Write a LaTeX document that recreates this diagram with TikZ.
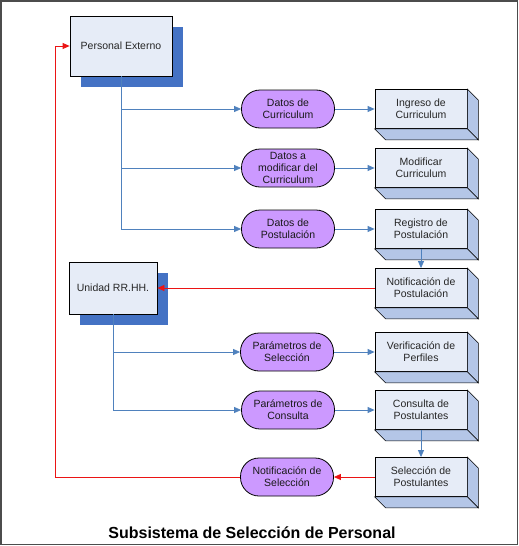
\documentclass[tikz,border=0pt]{standalone}
\usepackage{fontspec}
\setmainfont{Liberation Sans}
\usetikzlibrary{arrows.meta,shadows}
\definecolor{sombra}{RGB}{68,114,196}
\definecolor{fondo}{RGB}{230,236,247}
\definecolor{lado}{RGB}{180,198,231}
\definecolor{lila}{RGB}{204,153,255}
\definecolor{azullinea}{RGB}{79,129,189}
\definecolor{rojolinea}{RGB}{235,20,20}
\tikzset{
  actor/.style={draw=black, line width=0.8pt, fill=fondo, text=black!85, align=center,
    general shadow={fill=sombra, shadow xshift=11pt, shadow yshift=-11pt}},
  proceso/.style={draw=black, line width=0.8pt, fill=fondo, text=black!85, align=center,
    minimum width=92pt, minimum height=39pt, inner sep=0pt},
  carabox/.style={draw=black, line width=0.6pt, fill=lado},
  dato/.style={draw=black, line width=0.8pt, fill=lila, text=black!90, align=center,
    rounded corners=18.5pt, minimum width=93pt, minimum height=38pt, inner sep=0pt},
  flujo/.style={draw=azullinea, line width=0.8pt, -{Triangle[length=7pt,width=6pt]}},
  aviso/.style={draw=rojolinea, line width=0.8pt, -{Triangle[length=7pt,width=6pt]}}
}
\newcommand{\proceso}[3]{\node[proceso] (#1) at #2 {#3};
        \draw[carabox] (#1.north east) -- ([shift={(11pt,-11pt)}]#1.north east) -- ([shift={(11pt,-11pt)}]#1.south east) -- (#1.south east) -- cycle;
        \draw[carabox] (#1.south west) -- ([shift={(11pt,-11pt)}]#1.south west) -- ([shift={(11pt,-11pt)}]#1.south east) -- (#1.south east) -- cycle;}

\begin{document}
\begin{tikzpicture}[x=1pt, y=-1pt, font=\fontsize{10.5}{12.3}\selectfont]

					\useasboundingbox (0,0) rectangle (519,546);
					\draw[line width=1.5pt, black!70] (1,1) rectangle (517.5,544.5);

					\node[actor, minimum width=102pt, minimum height=60pt] (pe) at (121,46) {Personal Externo};
					\node[actor, minimum width=88pt, minimum height=52pt] (ur) at (113,288) {Unidad RR.HH.};

					\node[dato] (dc) at (288,109) {Datos de\\Curriculum};
					\node[dato] (dm) at (288,168) {Datos a\\modificar del\\Curriculum};
					\node[dato] (dp) at (288,229) {Datos de\\Postulación};
					\node[dato] (ps) at (287,352) {Parámetros de\\Selección};
					\node[dato] (pc) at (288,410) {Parámetros de\\Consulta};
					\node[dato] (ns) at (287,477) {Notificación de\\Selección};

					\proceso{ic}{(421,109)}{Ingreso de\\Curriculum}
					\proceso{mc}{(421,168)}{Modificar\\Curriculum}
					\proceso{rp}{(421,229)}{Registro de\\Postulación}
					\proceso{np}{(421,288)}{Notificación de\\Postulación}
					\proceso{vp}{(421,352)}{Verificación de\\Perfiles}
					\proceso{cp}{(421,410)}{Consulta de\\Postulantes}
					\proceso{sp}{(421,477)}{Selección de\\Postulantes}

					\draw[flujo] (pe.south) |- (dc.west);
					\draw[flujo] (pe.south) |- (dm.west);
					\draw[flujo] (pe.south) |- (dp.west);
					\draw[flujo] (dc.east) -- (ic.west);
					\draw[flujo] (dm.east) -- (mc.west);
					\draw[flujo] (dp.east) -- (rp.west);
					\draw[flujo] (rp.south) -- (np.north);

					\draw[aviso] (np.west) -- (ur.east);

					\draw[flujo] (ur.south) |- (ps.west);
					\draw[flujo] (ur.south) |- (pc.west);
					\draw[flujo] (ps.east) -- (vp.west);
					\draw[flujo] (pc.east) -- (cp.west);
					\draw[flujo] (cp.south) -- (sp.north);

					\draw[aviso] (sp.west) -- (ns.east);
					\draw[aviso] (ns.west) -| ([xshift=-14pt]pe.west) -- (pe.west);

					\node[font=\fontsize{16}{19}\selectfont\bfseries] (titulo) at (252,533) {Subsistema de Selección de Personal};

\end{tikzpicture}
\end{document}
